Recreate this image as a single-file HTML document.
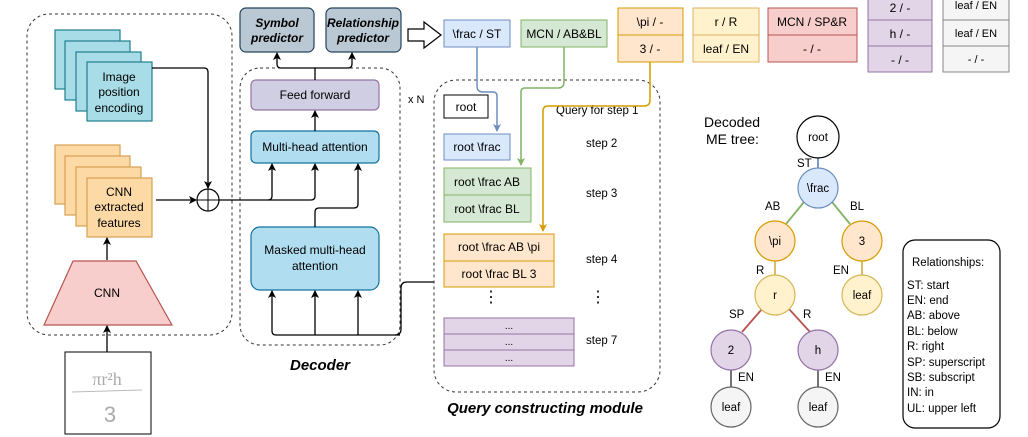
<!DOCTYPE html>
<html><head><meta charset="utf-8"><style>
html,body{margin:0;padding:0;background:#fff;}
svg{display:block;font-family:"Liberation Sans",sans-serif;}
</style></head><body>
<svg width="1028" height="437" viewBox="0 0 1028 437" xmlns="http://www.w3.org/2000/svg">
<defs>
<marker id="a" markerWidth="8" markerHeight="8" refX="7" refY="4" orient="auto" markerUnits="userSpaceOnUse"><path d="M0,0 L8,4 L0,8 L2,4 Z" fill="#000"/></marker>
<marker id="ab" markerWidth="8" markerHeight="8" refX="7" refY="4" orient="auto" markerUnits="userSpaceOnUse"><path d="M0,0 L8,4 L0,8 L2,4 Z" fill="#6c8ebf"/></marker>
<marker id="ag" markerWidth="8" markerHeight="8" refX="7" refY="4" orient="auto" markerUnits="userSpaceOnUse"><path d="M0,0 L8,4 L0,8 L2,4 Z" fill="#82b366"/></marker>
<marker id="ao" markerWidth="8" markerHeight="8" refX="7" refY="4" orient="auto" markerUnits="userSpaceOnUse"><path d="M0,0 L8,4 L0,8 L2,4 Z" fill="#d79b00"/></marker>
</defs>
<g font-size="12" fill="#000">
<rect x="27" y="14" width="205" height="321" rx="22" fill="none" stroke="#333" stroke-dasharray="3,3"/>
<g fill="#a8dde8" stroke="#1f7f8f" stroke-width="1.2">
<rect x="55" y="30" width="65" height="59"/><rect x="65" y="41" width="65" height="59"/><rect x="76" y="52" width="65" height="59"/><rect x="87" y="62" width="65" height="59"/></g>
<text x="119" y="81" text-anchor="middle">Image</text><text x="119" y="96" text-anchor="middle">position</text><text x="119" y="112" text-anchor="middle">encoding</text>
<g fill="#fdd9a6" stroke="#d6a050" stroke-width="1.2">
<rect x="55" y="145" width="65" height="59"/><rect x="65" y="156" width="65" height="59"/><rect x="76" y="167" width="65" height="59"/><rect x="87" y="178" width="65" height="59"/></g>
<text x="119" y="196" text-anchor="middle">CNN</text><text x="119" y="211" text-anchor="middle">extracted</text><text x="119" y="227" text-anchor="middle">features</text>
<polygon points="73,261 136,261 172,325 44,325" fill="#f8cecc" stroke="#b85450" stroke-width="1.2"/>
<text x="107" y="297" text-anchor="middle">CNN</text>
<line x1="107" y1="260" x2="107" y2="238" stroke="#000" stroke-width="1.3" marker-end="url(#a)"/>
<line x1="107" y1="352" x2="107" y2="326" stroke="#000" stroke-width="1.3" marker-end="url(#a)"/>
<rect x="65" y="352" width="86" height="82" fill="#fff" stroke="#000"/>
<text x="107" y="385" text-anchor="middle" font-size="18" fill="#aaa" font-family="Liberation Serif,serif">πr²h</text>
<line x1="72" y1="392" x2="142" y2="390" stroke="#bbb"/>
<text x="110" y="422" text-anchor="middle" font-size="22" fill="#aaa">3</text>
<circle cx="208" cy="200" r="11" fill="#fff" stroke="#000" stroke-width="1.2"/>
<line x1="197" y1="200" x2="219" y2="200" stroke="#000"/><line x1="208" y1="189" x2="208" y2="211" stroke="#000"/>
<path d="M152,68 H204 Q208,68 208,72 V188" fill="none" stroke="#000" stroke-width="1.3" marker-end="url(#a)"/>
<line x1="156" y1="200" x2="196" y2="200" stroke="#000" stroke-width="1.3" marker-end="url(#a)"/>
<rect x="240" y="68" width="160" height="277" rx="20" fill="none" stroke="#333" stroke-dasharray="3,3"/>
<rect x="240" y="8" width="74" height="44" rx="6" fill="#bac8d3" stroke="#23445d" stroke-width="1.2"/>
<rect x="326" y="8" width="75" height="44" rx="6" fill="#bac8d3" stroke="#23445d" stroke-width="1.2"/>
<g font-weight="bold" font-style="italic" text-anchor="middle"><text x="277" y="27">Symbol</text><text x="277" y="42">predictor</text><text x="363" y="27">Relationship</text><text x="363" y="42">predictor</text></g>
<rect x="251" y="80" width="128" height="30" rx="5" fill="#d0cee2" stroke="#9673a6" stroke-width="1.2"/>
<text x="315" y="99" text-anchor="middle">Feed forward</text>
<rect x="251" y="131" width="128" height="32" rx="5" fill="#b1ddf0" stroke="#10739e" stroke-width="1.2"/>
<text x="315" y="151" text-anchor="middle">Multi-head attention</text>
<rect x="251" y="227" width="128" height="63" rx="9" fill="#b1ddf0" stroke="#10739e" stroke-width="1.2"/>
<text x="315" y="254" text-anchor="middle">Masked multi-head</text><text x="315" y="270" text-anchor="middle">attention</text>
<g fill="none" stroke="#000" stroke-width="1.3">
<path d="M315,80 V68 M315,68 H281 Q277,68 277,64 V53" marker-end="url(#a)"/>
<path d="M315,68 H348 Q352,68 352,64 V53" marker-end="url(#a)"/>
<line x1="315" y1="131" x2="315" y2="111" marker-end="url(#a)"/>
<path d="M219,200 H268 Q272,200 272,196 V164" marker-end="url(#a)"/>
<path d="M268,200 H311 Q315,200 315,196 V164" marker-end="url(#a)"/>
<path d="M315,227 V212 Q315,208 319,208 H354 Q358,208 358,204 V164" marker-end="url(#a)"/>
<path d="M400,335 H276 Q272,335 272,331 V291" marker-end="url(#a)"/>
<path d="M315,335 V291" marker-end="url(#a)"/>
<path d="M358,335 V291" marker-end="url(#a)"/>
<path d="M395,335 Q401,335 401,329 V288 Q401,282 407,282 H434"/>
</g>
<text x="408" y="103" font-size="11">x N</text>
<text x="320" y="370" text-anchor="middle" font-size="15" font-weight="bold" font-style="italic">Decoder</text>
<path d="M408,29 H424 V22 L441,35 L424,48 V41 H408 Z" fill="#fff" stroke="#000" stroke-width="1.2"/>
<rect x="444" y="20" width="66" height="27" fill="#dae8fc" stroke="#6c8ebf"/><text x="477" y="38" text-anchor="middle">\frac / ST</text>
<rect x="521" y="20" width="86" height="27" fill="#d5e8d4" stroke="#82b366"/><text x="564" y="38" text-anchor="middle">MCN / AB&amp;BL</text>
<g fill="#ffe6cc" stroke="#d79b00"><rect x="618" y="8" width="65" height="27"/><rect x="618" y="35" width="65" height="27"/></g>
<text x="650" y="26" text-anchor="middle">\pi / -</text><text x="650" y="53" text-anchor="middle">3 / -</text>
<g fill="#fff2cc" stroke="#e0b060"><rect x="693" y="8" width="66" height="27"/><rect x="693" y="35" width="66" height="27"/></g>
<text x="726" y="26" text-anchor="middle">r / R</text><text x="726" y="53" text-anchor="middle">leaf / EN</text>
<g fill="#f8cecc" stroke="#b85450"><rect x="768" y="8" width="89" height="27"/><rect x="768" y="35" width="89" height="27"/></g>
<text x="812" y="26" text-anchor="middle">MCN / SP&amp;R</text><text x="812" y="53" text-anchor="middle">- / -</text>
<g fill="#e1d5e7" stroke="#9673a6"><rect x="868" y="-6" width="64" height="26"/><rect x="868" y="20" width="64" height="26"/><rect x="868" y="46" width="64" height="26"/></g>
<text x="900" y="12" text-anchor="middle">2 / -</text><text x="900" y="38" text-anchor="middle">h / -</text><text x="900" y="64" text-anchor="middle">- / -</text>
<g fill="#f5f5f5" stroke="#888"><rect x="943" y="-6" width="66" height="26"/><rect x="943" y="20" width="66" height="26"/><rect x="943" y="46" width="66" height="26"/></g>
<text x="976" y="9" text-anchor="middle" font-size="11">leaf / EN</text><text x="976" y="37" text-anchor="middle" font-size="11">leaf / EN</text><text x="976" y="63" text-anchor="middle" font-size="11">- / -</text>
<rect x="434" y="80" width="226" height="312" rx="22" fill="none" stroke="#333" stroke-dasharray="3,3"/>
<rect x="444" y="95" width="44" height="23" fill="#fff" stroke="#000"/><text x="466" y="111" text-anchor="middle">root</text>
<rect x="444" y="134" width="66" height="26" fill="#dae8fc" stroke="#6c8ebf"/><text x="477" y="151" text-anchor="middle">root \frac</text>
<g fill="#d5e8d4" stroke="#82b366"><rect x="444" y="168" width="87" height="27"/><rect x="444" y="195" width="87" height="27"/></g>
<text x="487" y="186" text-anchor="middle">root \frac AB</text><text x="487" y="213" text-anchor="middle">root \frac BL</text>
<g fill="#ffe6cc" stroke="#d79b00"><rect x="444" y="234" width="110" height="27"/><rect x="444" y="261" width="110" height="26"/></g>
<text x="499" y="251" text-anchor="middle">root \frac AB \pi</text><text x="499" y="278" text-anchor="middle">root \frac BL 3</text>
<g fill="#e1d5e7" stroke="#9673a6"><rect x="444" y="318" width="130" height="16"/><rect x="444" y="334" width="130" height="16"/><rect x="444" y="350" width="130" height="16"/></g>
<g text-anchor="middle" font-size="10"><text x="509" y="329">...</text><text x="509" y="345">...</text><text x="509" y="361">...</text></g>
<g font-size="16" text-anchor="middle"><text x="491" y="302">⋮</text><text x="598" y="302">⋮</text></g>
<text x="556" y="114" font-size="11.5">Query for step 1</text>
<g font-size="11.5"><text x="586" y="147">step 2</text><text x="586" y="197">step 3</text><text x="586" y="263">step 4</text><text x="586" y="344">step 7</text></g>
<text x="545" y="413" text-anchor="middle" font-size="15" font-weight="bold" font-style="italic">Query constructing module</text>
<g fill="none" stroke-width="1.5">
<path d="M477,47 V86 Q477,92 483,92 H493 Q497,92 497,96 V131" stroke="#6c8ebf" marker-end="url(#ab)"/>
<path d="M564,47 V82 Q564,88 558,88 H525 Q521,88 521,92 V165" stroke="#82b366" marker-end="url(#ag)"/>
<path d="M650,62 V100 Q650,106 644,106 H548 Q543,106 543,111 V231" stroke="#d79b00" marker-end="url(#ao)"/>
</g>
<text x="704" y="127" font-size="14">Decoded</text><text x="706" y="144" font-size="14">ME tree:</text>
<g stroke-width="1.8" fill="none">
<line x1="818" y1="157" x2="818" y2="168" stroke="#6c8ebf"/>
<line x1="804" y1="202" x2="786" y2="224" stroke="#82b366"/>
<line x1="832" y1="202" x2="850" y2="224" stroke="#82b366"/>
<line x1="775" y1="261" x2="775" y2="275" stroke="#d6b656"/>
<line x1="862" y1="261" x2="862" y2="275" stroke="#d6b656"/>
<line x1="762" y1="309" x2="742" y2="332" stroke="#b85450"/>
<line x1="789" y1="309" x2="810" y2="332" stroke="#b85450"/>
<line x1="731" y1="370" x2="731" y2="387" stroke="#666"/>
<line x1="818" y1="370" x2="818" y2="387" stroke="#666"/>
</g>
<g stroke-width="1.2">
<circle cx="818" cy="137" r="21" fill="#fff" stroke="#000"/>
<circle cx="818" cy="188" r="20" fill="#dae8fc" stroke="#6c8ebf"/>
<circle cx="775" cy="241" r="20" fill="#ffe6cc" stroke="#d79b00"/>
<circle cx="862" cy="241" r="20" fill="#ffe6cc" stroke="#d79b00"/>
<circle cx="775" cy="295" r="20" fill="#fff2cc" stroke="#d6b656"/>
<circle cx="862" cy="295" r="20" fill="#fff2cc" stroke="#d6b656"/>
<circle cx="731" cy="350" r="20" fill="#e1d5e7" stroke="#9673a6"/>
<circle cx="818" cy="350" r="20" fill="#e1d5e7" stroke="#9673a6"/>
<circle cx="731" cy="407" r="20" fill="#f5f5f5" stroke="#666"/>
<circle cx="818" cy="407" r="20" fill="#f5f5f5" stroke="#666"/>
</g>
<g text-anchor="middle" font-size="11.5">
<text x="818" y="141">root</text><text x="818" y="192">\frac</text><text x="775" y="245">\pi</text><text x="862" y="245">3</text>
<text x="775" y="299">r</text><text x="862" y="299">leaf</text><text x="731" y="354">2</text><text x="818" y="354">h</text>
<text x="731" y="411">leaf</text><text x="818" y="411">leaf</text></g>
<g font-size="11.5">
<text x="797" y="167">ST</text><text x="765" y="210">AB</text><text x="850" y="210">BL</text>
<text x="756" y="274">R</text><text x="833" y="274">EN</text>
<text x="729" y="318">SP</text><text x="803" y="318">R</text>
<text x="738" y="381">EN</text><text x="825" y="381">EN</text></g>
<rect x="903" y="240" width="97" height="188" rx="12" fill="#fff" stroke="#000" stroke-width="1.2"/>
<g font-size="11.5"><text x="912" y="266">Relationships:</text>
<text x="907" y="289">ST: start</text><text x="907" y="304">EN: end</text><text x="907" y="319">AB: above</text><text x="907" y="335">BL: below</text>
<text x="907" y="350">R: right</text><text x="907" y="366">SP: superscript</text><text x="907" y="381">SB: subscript</text><text x="907" y="396">IN: in</text><text x="907" y="412">UL: upper left</text></g>
</g>
</svg>
</body></html>
